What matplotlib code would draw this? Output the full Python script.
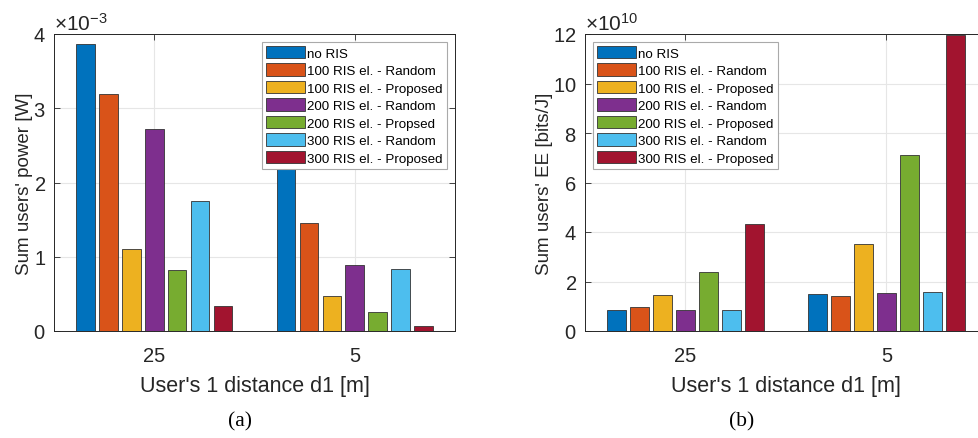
import matplotlib
matplotlib.use('Agg')
import matplotlib.pyplot as plt
import numpy as np
from matplotlib.ticker import ScalarFormatter

plt.rcParams['font.family'] = ['Liberation Sans', 'DejaVu Sans']
plt.rcParams['mathtext.fontset'] = 'custom'
plt.rcParams['mathtext.rm'] = 'Liberation Sans'
plt.rcParams['mathtext.it'] = 'Liberation Sans'

# data
distances = ['25', '5']
series = ['no RIS', '100 RIS el. - Random', '100 RIS el. - Proposed',
          '200 RIS el. - Random', '200 RIS el. - Propsed',
          '300 RIS el. - Random', '300 RIS el. - Proposed']
series_b = ['no RIS', '100 RIS el. - Random', '100 RIS el. - Proposed',
            '200 RIS el. - Random', '200 RIS el. - Proposed',
            '300 RIS el. - Random', '300 RIS el. - Proposed']
power_25 = [3.86e-3, 3.19e-3, 1.10e-3, 2.72e-3, 0.82e-3, 1.75e-3, 0.33e-3]
power_5 = [2.5e-3, 1.45e-3, 0.47e-3, 0.89e-3, 0.26e-3, 0.84e-3, 0.063e-3]
ee_25 = [0.85e10, 0.96e10, 1.44e10, 0.85e10, 2.40e10, 0.85e10, 4.32e10]
ee_5 = [1.48e10, 1.43e10, 3.52e10, 1.55e10, 7.10e10, 1.56e10, 11.95e10]

colors = ['#0072BD', '#D95319', '#EDB120', '#7E2F8E', '#77AC30', '#4DBEEE', '#A2142F']
dark = '#262626'

fig = plt.figure(figsize=(9.79, 4.39), dpi=100)
W, H = 979, 439
ax1 = fig.add_axes([54 / W, (H - 332) / H, 401 / W, 297 / H])
ax2 = fig.add_axes([585 / W, (H - 332) / H, 402 / W, 297 / H])


def draw(ax, v25, v5, labels, ymax, yticks, power, ylabel, legend_loc):
    x = np.arange(1, len(distances) + 1)
    n = len(labels)
    step = 0.8 / n
    for i in range(n):
        off = (i - (n - 1) / 2) * step
        ax.bar(x + off, [v25[i], v5[i]], width=0.093, color=colors[i],
               edgecolor='#333333', linewidth=0.6, label=labels[i], zorder=3)
    ax.set_xlim(0.5, 2.5)
    ax.set_ylim(0, ymax)
    ax.set_xticks(x)
    ax.set_xticklabels(distances)
    ax.set_yticks(yticks)
    fmt = ScalarFormatter(useMathText=True)
    fmt.set_powerlimits((power, power))
    ax.yaxis.set_major_formatter(fmt)
    ax.yaxis.get_offset_text().set_fontsize(15)
    ax.yaxis.get_offset_text().set_color(dark)
    ax.grid(True, color='#e6e6e6', linewidth=0.8, zorder=0)
    ax.tick_params(direction='in', top=True, right=True, labelsize=14.5,
                   colors=dark, length=4, width=0.6)
    ax.tick_params(axis='x', pad=11)
    ax.tick_params(axis='y', pad=6)
    for s in ax.spines.values():
        s.set_color(dark)
        s.set_linewidth(0.7)
    ax.set_xlabel("User's 1 distance d1 [m]", fontsize=15.5, color=dark, labelpad=7)
    ax.set_ylabel(ylabel, fontsize=13.5, color=dark, labelpad=0)
    leg = ax.legend(loc=legend_loc, fontsize=9.6, frameon=True, fancybox=False,
                    edgecolor='#aaaaaa', framealpha=1, handlelength=2.9,
                    handleheight=1.05, handletextpad=0.2, labelspacing=0.28,
                    borderpad=0.3, borderaxespad=0.6)
    leg.get_frame().set_linewidth(0.8)


draw(ax1, power_25, power_5, series, 4e-3, np.arange(0, 5) * 1e-3, -3,
     "Sum users' power [W]", 'upper right')
draw(ax2, ee_25, ee_5, series_b, 12e10, np.arange(0, 13, 2) * 1e10, 10,
     "Sum users' EE [bits/J]", 'upper left')

fig.text(240 / W, 1 - 422 / H, '(a)', family='Liberation Serif', fontsize=15.5,
         ha='center', va='center')
fig.text(742 / W, 1 - 422 / H, '(b)', family='Liberation Serif', fontsize=15.5,
         ha='center', va='center')

fig.savefig('out.png', dpi=100)
